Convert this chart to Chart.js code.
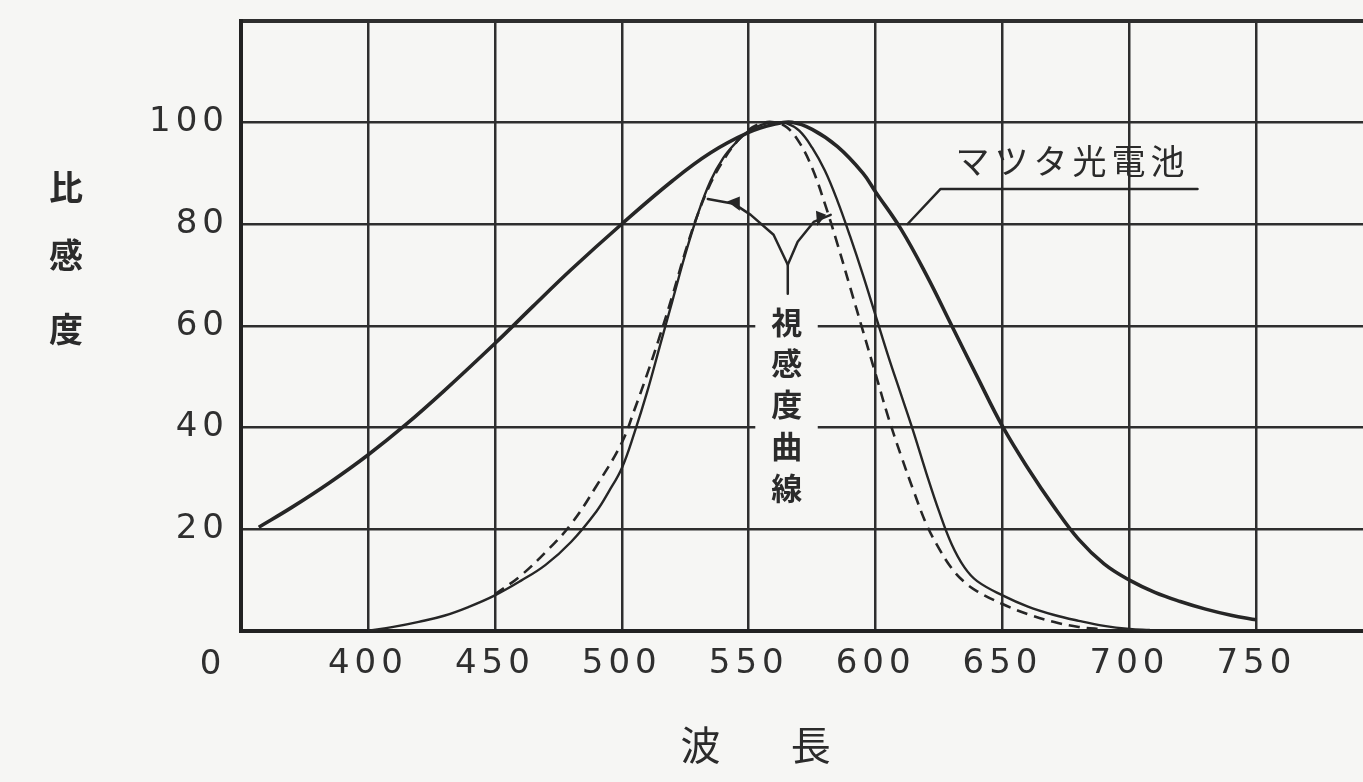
<!DOCTYPE html>
<html>
<head>
<meta charset="utf-8">
<script src="https://cdn.jsdelivr.net/npm/chart.js@4.4.1/dist/chart.umd.min.js"></script>
<style>
  html, body { margin: 0; padding: 0; background: #f6f6f4; overflow: hidden; }
</style>
</head>
<body>
<canvas id="chart" width="1363" height="782"></canvas>
<script>
// tick labels
const xTicks = [350, 400, 450, 500, 550, 600, 650, 700, 750];
const yTicks = [0, 20, 40, 60, 80, 100, 120];

// マツタ光電池 (thick solid)
const mazdaNm  = [357, 370, 385, 400, 415, 430, 450, 465, 480, 500, 520, 535, 550, 560, 567, 575, 585, 595, 600, 610, 620, 630, 640, 650, 660, 670, 680, 690, 700, 710, 720, 730, 740, 750];
const mazdaVal = [20.4, 24.3, 29.2, 34.6, 40.6, 47.2, 56.5, 63.8, 71, 80, 88.5, 94, 98, 99.6, 100, 98.6, 95.2, 90, 86.3, 79, 70, 60, 50, 40.2, 32, 24.6, 18, 13.2, 10, 7.6, 5.8, 4.3, 3.1, 2.2];

// 視感度曲線 (thin solid)
const visNm  = [400, 410, 420, 430, 440, 450, 460, 470, 480, 490, 495, 500, 505, 510, 515, 520, 525, 530, 535, 540, 545, 550, 555, 560, 565, 570, 575, 580, 585, 590, 595, 600, 605, 610, 615, 620, 625, 630, 635, 640, 650, 660, 670, 680, 690, 700, 708];
const visVal = [0, 0.8, 1.8, 3, 4.8, 7, 9.8, 13, 17.5, 23.5, 27.5, 32, 39, 47, 56, 65, 74, 82, 88.5, 93, 96, 98.3, 99.5, 100, 99.8, 98.3, 95, 90.5, 84.5, 77.5, 70, 62, 54, 46.5, 39, 31, 23.5, 17, 12.5, 9.8, 7, 4.8, 3.2, 2, 1, 0.4, 0.2];

// 視感度曲線, dashed
const stdNm  = [450, 460, 470, 480, 490, 500, 505, 510, 515, 520, 525, 530, 535, 540, 545, 550, 555, 560, 565, 570, 575, 580, 585, 590, 595, 600, 605, 610, 615, 620, 625, 630, 635, 640, 650, 660, 670, 680, 690];
const stdVal = [7.2, 10.8, 15.5, 21, 28.5, 37, 43.5, 50.5, 58, 66, 74.5, 82, 88, 92.5, 96, 98.5, 99.8, 100, 99, 96, 91, 84, 76, 67.5, 59, 50.5, 42, 34.5, 27.5, 21, 16.2, 12.3, 9.6, 7.8, 5.3, 3.3, 1.8, 0.8, 0.3];

const BG = '#f6f6f4';
const INK = '#262626';

function pts(xs, ys) {
  return xs.map((v, i) => ({ x: v, y: ys[i] }));
}

const notes = {
  id: 'notes',
  beforeDraw(chart) {
    chart.ctx.letterSpacing = '5px';
  },
  afterDraw(chart) {
    const c = chart.ctx;
    const sx = chart.scales.x, sy = chart.scales.y;
    const X = v => sx.getPixelForValue(v);
    const Y = v => sy.getPixelForValue(v);
    const bottom = chart.chartArea.bottom;
    c.save();
    c.letterSpacing = '0px';

    // label box behind the vertical text
    c.fillStyle = BG;
    c.fillRect(X(552.6), Y(65.2), X(577.2) - X(552.6), Y(24.1) - Y(65.2));

    c.fillStyle = '#2b2b2b';
    c.textAlign = 'center';
    c.textBaseline = 'middle';
    c.font = 'bold 31px "Noto Sans CJK JP"';
    const vchars = ['視', '感', '度', '曲', '線'];
    const vy = [60.7, 52.6, 44.6, 36.4, 28.0];
    vchars.forEach((ch, i) => c.fillText(ch, X(565), Y(vy[i])));

    // leaders
    c.strokeStyle = INK;
    c.lineWidth = 2.5;
    c.lineJoin = 'round';
    c.lineCap = 'round';
    const line = arr => {
      c.beginPath();
      arr.forEach((p, i) => i ? c.lineTo(X(p[0]), Y(p[1])) : c.moveTo(X(p[0]), Y(p[1])));
      c.stroke();
    };
    line([[565.4, 66.3], [565.4, 72], [559.8, 77.9], [550.8, 81.8], [544.1, 84], [533.9, 84.9]]);
    line([[565.4, 72], [569.3, 76.5], [575.6, 80.4], [582.3, 81.8]]);
    c.fillStyle = INK;
    c.beginPath();
    c.moveTo(X(541.5), Y(84.4)); c.lineTo(X(546.5), Y(85.4)); c.lineTo(X(546.5), Y(82.6));
    c.closePath(); c.fill();
    c.beginPath();
    c.moveTo(X(580.5), Y(81.8)); c.lineTo(X(576.5), Y(82.6)); c.lineTo(X(577), Y(79.6));
    c.closePath(); c.fill();

    line([[612.6, 80], [625.6, 86.9], [726.8, 86.9]]);
    c.fillStyle = '#2b2b2b';
    c.textAlign = 'left';
    c.letterSpacing = '5px';
    c.font = '34px "Noto Sans CJK JP"';
    c.fillText('マツタ光電池', X(631.5), Y(92.4));

    // origin label
    c.letterSpacing = '0px';
    c.textAlign = 'center';
    c.font = '34px "DejaVu Sans"';
    c.fillStyle = '#2f2f2f';
    c.fillText('0', X(338), bottom + 34);

    // axis titles
    c.font = '40px "Noto Sans CJK JP"';
    c.fillStyle = '#2b2b2b';
    c.fillText('波', X(531), bottom + 114);
    c.fillText('長', X(574.4), bottom + 114);
    c.font = 'bold 34px "Noto Sans CJK JP"';
    ['比', '感', '度'].forEach((ch, i) => c.fillText(ch, sx.left - 175, Y([87.3, 73.8, 59.3][i])));
    c.restore();
  }
};

const gridColor = '#2e2e2e';

new Chart(document.getElementById('chart'), {
  type: 'line',
  data: {
    datasets: [
      {
        label: 'マツタ光電池',
        data: pts(mazdaNm, mazdaVal),
        borderColor: INK,
        borderWidth: 3.6,
        pointRadius: 0,
        tension: 0.4,
        fill: false
      },
      {
        label: '視感度曲線',
        data: pts(visNm, visVal),
        borderColor: INK,
        borderWidth: 2.4,
        pointRadius: 0,
        tension: 0.4,
        fill: false
      },
      {
        label: '視感度曲線 (点線)',
        data: pts(stdNm, stdVal),
        borderColor: INK,
        borderWidth: 2.6,
        borderDash: [11, 7],
        pointRadius: 0,
        tension: 0.4,
        fill: false
      }
    ]
  },
  options: {
    responsive: false,
    devicePixelRatio: 1,
    animation: false,
    layout: { padding: { top: 18, right: 0, left: 0, bottom: 0 } },
    plugins: { legend: { display: false }, tooltip: { enabled: false } },
    scales: {
      x: {
        type: 'linear',
        min: 350,
        max: 792,
        afterBuildTicks: s => { s.ticks = xTicks.map(v => ({ value: v })); },
        afterFit: s => { s.height = 151; },
        grid: { color: gridColor, lineWidth: 2.5, drawTicks: false },
        border: { display: true, color: '#222', width: 4 },
        ticks: {
          padding: 13,
          color: '#2f2f2f',
          font: { family: 'DejaVu Sans', size: 34 },
          maxRotation: 0,
          callback: v => (v === 350 ? '' : String(v))
        }
      },
      y: {
        min: 0,
        max: 120,
        afterBuildTicks: s => { s.ticks = yTicks.map(v => ({ value: v })); },
        afterFit: s => { s.width = 241; },
        grid: {
          color: gridColor,
          lineWidth: ctx => (ctx.tick && ctx.tick.value === 120 ? 4 : 2.5),
          drawTicks: false
        },
        border: { display: true, color: '#222', width: 4 },
        ticks: {
          padding: 12,
          color: '#2f2f2f',
          font: { family: 'DejaVu Sans', size: 34, lineHeight: 0.5 },
          callback: v => (v > 0 && v < 120 ? String(v) : '')
        }
      }
    }
  },
  plugins: [notes]
});
</script>
</body>
</html>
